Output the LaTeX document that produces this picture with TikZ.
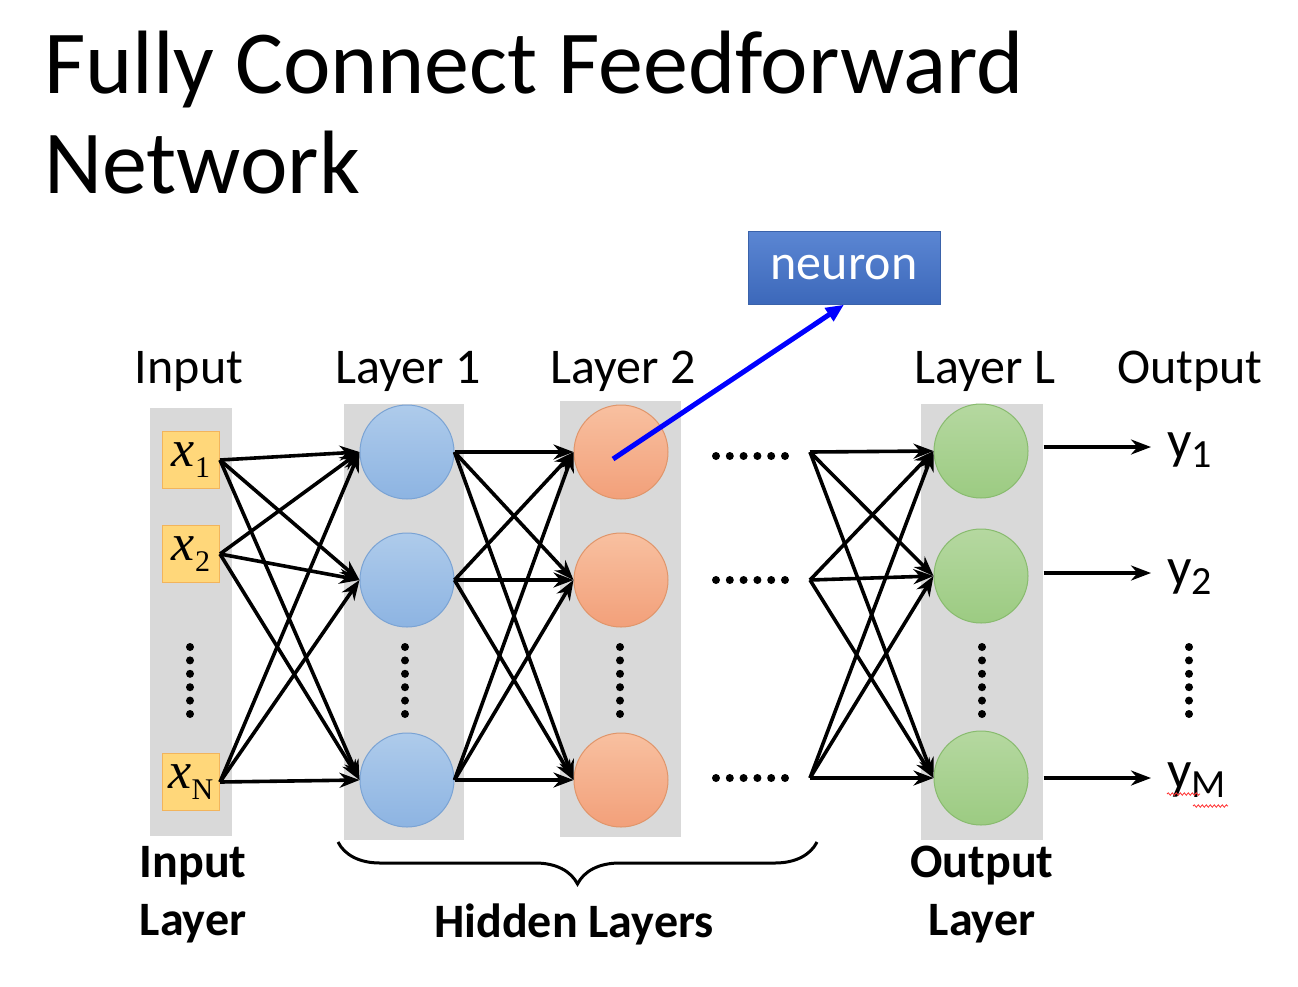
\documentclass[tikz,border=0pt]{standalone}
\usepackage{fontspec}
\setmainfont{Carlito}
\newfontfamily\timesfont{Liberation Serif}
\usepackage{tikz}
\usetikzlibrary{shapes,arrows.meta,positioning,decorations.pathreplacing,decorations.pathmorphing}

\definecolor{colgray}{HTML}{D9D9D9}
\definecolor{xfill}{HTML}{FFD77A}
\definecolor{xline}{HTML}{F2B45C}
\definecolor{bluetop}{HTML}{AECBEB}
\definecolor{bluebot}{HTML}{8DB4E2}
\definecolor{blueline}{HTML}{7AA3D4}
\definecolor{redtop}{HTML}{F8C0A0}
\definecolor{redbot}{HTML}{F2A07A}
\definecolor{redline}{HTML}{E0956A}
\definecolor{greentop}{HTML}{B5D8A0}
\definecolor{greenbot}{HTML}{9CCB82}
\definecolor{greenline}{HTML}{88BB6E}
\definecolor{boxtop}{HTML}{5B86D3}
\definecolor{boxbot}{HTML}{3C68BA}
\definecolor{boxline}{HTML}{3A62AA}

\newcommand{\xin}[1]{{\timesfont\fontsize{52}{52}\selectfont\itshape x}\raisebox{-11pt}{\timesfont\fontsize{30}{30}\selectfont #1}}
\newcommand{\yout}[1]{y\raisebox{-9pt}{\fontsize{40}{40}\selectfont #1}}

\begin{document}
\begin{tikzpicture}[x=1pt, y=-1pt, auto]
    \tikzstyle{column} = [fill=colgray]
    \tikzstyle{xbox} = [rectangle, draw=xline, fill=xfill, line width=1pt, minimum width=57pt, minimum height=57pt, inner sep=0pt]
    \tikzstyle{unit} = [circle, line width=1pt, minimum size=94pt, inner sep=0pt]
    \tikzstyle{hidA} = [unit, draw=blueline, top color=bluetop, bottom color=bluebot]
    \tikzstyle{hidB} = [unit, draw=redline, top color=redtop, bottom color=redbot]
    \tikzstyle{outL} = [unit, draw=greenline, top color=greentop, bottom color=greenbot]
    \tikzstyle{head} = [anchor=base, inner sep=0pt, font=\fontsize{50}{50}\selectfont]
    \tikzstyle{foot} = [anchor=north, inner sep=0pt, align=center, font=\bfseries\fontsize{48}{58}\selectfont]
    \tikzstyle{arrow} = [-{Stealth[length=20pt,width=15pt]}, line width=3.6pt]
    \tikzstyle{dot} = [fill=black, radius=4pt]

    \useasboundingbox (0,0) rectangle (1298,986);

    % title
    \node [anchor=base west, inner sep=0pt, font=\fontsize{90}{90}\selectfont] (title1) at (44,93) {Fully Connect Feedforward};
    \node [anchor=base west, inner sep=0pt, font=\fontsize{90}{90}\selectfont] (title2) at (44,193) {Network};

    % gray columns
    \fill [column] (150,408) rectangle (232,836);
    \fill [column] (344,404) rectangle (464,840);
    \fill [column] (560,401) rectangle (681,837);
    \fill [column] (921,404) rectangle (1043,840);

    % column heads
    \node [head] (hin) at (189,383) {Input};
    \node [head] (hl1) at (408,383) {Layer 1};
    \node [head] (hl2) at (623,383) {Layer 2};
    \node [head] (hlL) at (985,383) {Layer L};
    \node [head] (hout) at (1190,383) {Output};

    % input layer
    \node [xbox] (x1) at (191,460) {\xin{1}};
    \node [xbox] (x2) at (191,554) {\xin{2}};
    \node [xbox] (xN) at (191,782) {\xin{N}};

    % hidden layers and output layer
    \node [hidA] (a1) at (407,452) {};
    \node [hidA] (a2) at (407,580) {};
    \node [hidA] (a3) at (407,780) {};
    \node [hidB] (b1) at (621,452) {};
    \node [hidB] (b2) at (621,580) {};
    \node [hidB] (b3) at (621,780) {};
    \node [outL] (c1) at (981,451) {};
    \node [outL] (c2) at (981,576) {};
    \node [outL] (c3) at (981,778) {};

    \coordinate (d1) at (810,452);
    \coordinate (d2) at (810,580);
    \coordinate (d3) at (810,778);

    % connections
    \foreach \s in {x1,x2,xN}
        \foreach \t in {a1,a2,a3}
            \draw [arrow] (\s.east) -- (\t.west);
    \foreach \s in {a1,a2,a3}
        \foreach \t in {b1,b2,b3}
            \draw [arrow] (\s.east) -- (\t.west);
    \foreach \s in {d1,d2,d3}
        \foreach \t in {c1,c2,c3}
            \draw [arrow] (\s) -- (\t.west);

    % outputs
    \node [anchor=base west, inner sep=0pt, font=\fontsize{54}{54}\selectfont] (y1) at (1167,458) {\yout{1}};
    \node [anchor=base west, inner sep=0pt, font=\fontsize{54}{54}\selectfont] (y2) at (1167,585) {\yout{2}};
    \node [anchor=base west, inner sep=0pt, font=\fontsize{54}{54}\selectfont] (yM) at (1167,788) {\yout{M}};
    \draw [arrow] (c1.east) ++(15,-4) coordinate (o1) -- ([xshift=-16pt]y1.west |- o1);
    \draw [arrow] (c2.east) ++(15,-3) coordinate (o2) -- ([xshift=-16pt]y2.west |- o2);
    \draw [arrow] (c3.east) ++(15,0) coordinate (o3) -- ([xshift=-16pt]yM.west |- o3);

    % spell-check squiggle
    \draw [red!80, line width=0.8pt, decorate, decoration={snake, amplitude=1.2pt, segment length=4pt}] (1167,794) -- (1200,794);
    \draw [red!80, line width=0.8pt, decorate, decoration={snake, amplitude=1.2pt, segment length=4pt}] (1193,806) -- (1228,806);

    % dots
    \foreach \px in {190,405,620,982,1189}
        \foreach \k in {0,...,5}
            \fill [dot] (\px,647+13.4*\k) circle;
    \foreach \py in {456,580,778}
        \foreach \k in {0,...,5}
            \fill [dot] (716+13.8*\k,\py) circle;

    % neuron callout
    \node [rectangle, draw=boxline, top color=boxtop, bottom color=boxbot, text=white, minimum width=192pt, minimum height=73pt, font=\fontsize{50}{50}\selectfont] (neuron) at (844,268) {\raisebox{-4pt}{neuron}};
    \draw [-{Triangle[length=18pt,width=15pt]}, blue, line width=5pt] ([xshift=-8pt,yshift=-7pt]b1.center) -- (neuron.south);

    % bottom labels
    \node [foot] (lin) at (193,846) {Input\\Layer};
    \node [foot] (lout) at (982,846) {Output\\Layer};
    \draw [decorate, decoration={brace, mirror, amplitude=42pt}, line width=3pt] (338,842) -- (817,842);
    \node [anchor=base, inner sep=0pt, font=\bfseries\fontsize{48}{48}\selectfont] (hid) at (574,937) {Hidden Layers};
\end{tikzpicture}
\end{document}
